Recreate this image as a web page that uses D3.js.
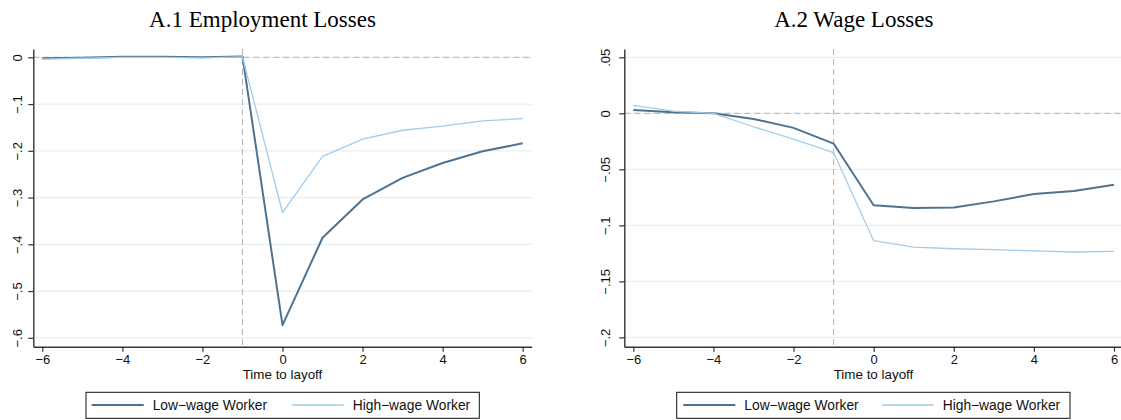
<!DOCTYPE html>
<html>
<head>
<meta charset="utf-8">
<script src="https://cdn.jsdelivr.net/npm/d3@7"></script>
<style>
  body { margin: 0; background: #fff; }
  svg { display: block; }
</style>
</head>
<body>
<svg></svg>
<script>
var width = 1121,
    height = 420;
var svg = d3.select("svg")
    .attr("width", width)
    .attr("height", height);

// data
var years = [-6, -5, -4, -3, -2, -1, 0, 1, 2, 3, 4, 5, 6];
var empLow  = [-0.002, -0.001, 0.001, 0.001, 0.000, 0.002, -0.573, -0.386, -0.304, -0.258, -0.226, -0.201, -0.184];
var empHigh = [-0.004, -0.002, 0.000, 0.000, -0.001, 0.001, -0.332, -0.212, -0.175, -0.156, -0.147, -0.136, -0.131];
var wageLow  = [0.003, 0.001, 0.000, -0.005, -0.013, -0.027, -0.082, -0.0845, -0.084, -0.0786, -0.072, -0.0694, -0.0637];
var wageHigh = [0.007, 0.002, 0.000, -0.012, -0.023, -0.035, -0.1137, -0.1194, -0.1209, -0.1217, -0.1227, -0.1238, -0.1232];

var xTicks = [-6, -4, -2, 0, 2, 4, 6];
var empTicks = [0, -0.1, -0.2, -0.3, -0.4, -0.5, -0.6];
var empTickLabels = ["0", "\u2212.1", "\u2212.2", "\u2212.3", "\u2212.4", "\u2212.5", "\u2212.6"];
var wageTicks = [0.05, 0, -0.05, -0.1, -0.15, -0.2];
var wageTickLabels = [".05", "0", "\u2212.05", "\u2212.1", "\u2212.15", "\u2212.2"];
var seriesNames = ["Low\u2212wage Worker", "High\u2212wage Worker"];
var titles = ["A.1 Employment Losses", "A.2 Wage Losses"];

var colors = ["#4e7391", "#a2cdea"],
    widths = [2, 1.3];
var sans = "'Liberation Sans', Arial, Helvetica, sans-serif",
    serif = "'Liberation Serif', 'Times New Roman', serif";

drawPanel({
    left: 33.3, right: 531.7,
    yDomain: [0.0178, -0.619],
    ticks: empTicks, tickLabels: empTickLabels, labelOff: 11.6,
    series: [empLow, empHigh],
    title: titles[0], titleX: 262.5,
    legend: [86, 479.3], legLines: [91.7, 291.7]
});
drawPanel({
    left: 624.3, right: 1123,
    yDomain: [0.0574, -0.2083],
    ticks: wageTicks, tickLabels: wageTickLabels, labelOff: 14.3,
    series: [wageLow, wageHigh],
    title: titles[1], titleX: 853.8,
    legend: [676.7, 1070], legLines: [683.3, 881.7]
});

function drawPanel(p) {
    var top = 49, bottom = 346.7;
    var x = d3.scaleLinear().domain([-6.225, 6.225]).range([p.left, p.right]);
    var y = d3.scaleLinear().domain(p.yDomain).range([top, bottom]);
    var g = svg.append("g");

    //title
    g.append("text")
        .attr("x", p.titleX).attr("y", 26.7)
        .attr("text-anchor", "middle")
        .style("font-family", serif).style("font-size", "23px")
        .text(p.title);

    //gridlines
    g.selectAll(".grid")
        .data(p.ticks)
        .enter().append("line")
        .attr("x1", p.left).attr("x2", p.right)
        .attr("y1", d => y(d)).attr("y2", d => y(d))
        .attr("stroke", "#e6eff2").attr("stroke-width", 1.3);

    //reference lines
    g.append("line")
        .attr("x1", p.left).attr("x2", p.right)
        .attr("y1", y(0)).attr("y2", y(0))
        .attr("stroke", "#b3b3b3").attr("stroke-width", 1)
        .attr("stroke-dasharray", "6,4");
    g.append("line")
        .attr("x1", x(-1)).attr("x2", x(-1))
        .attr("y1", top).attr("y2", bottom)
        .attr("stroke", "#b3b3b3").attr("stroke-width", 1)
        .attr("stroke-dasharray", "6,4");

    //series
    var line = d3.line()
        .x((d, i) => x(years[i]))
        .y(d => y(d));
    p.series.forEach((s, k) => {
        g.append("path")
            .attr("d", line(s))
            .attr("fill", "none")
            .attr("stroke", colors[k])
            .attr("stroke-width", widths[k])
            .attr("stroke-linejoin", "round");
    });

    //x axis
    var xAxis = g.append("g")
        .attr("transform", "translate(0," + bottom + ")")
        .call(d3.axisBottom(x).tickValues(xTicks).tickSize(5).tickSizeOuter(0)
            .tickFormat(d => d < 0 ? "\u2212" + Math.abs(d) : d));
    xAxis.select(".domain").attr("stroke", "#333").attr("stroke-width", 1.4);
    xAxis.selectAll(".tick line").attr("stroke", "#333").attr("stroke-width", 1.2);
    xAxis.selectAll(".tick text")
        .attr("y", 17.6).attr("dy", null)
        .style("font-family", sans).style("font-size", "13px").attr("fill", "#111");

    //y axis
    var yAxis = g.append("g")
        .attr("transform", "translate(" + p.left + ",0)")
        .call(d3.axisLeft(y).tickValues(p.ticks).tickSize(5).tickSizeOuter(0)
            .tickFormat((d, i) => p.tickLabels[i]));
    yAxis.select(".domain").attr("stroke", "#333").attr("stroke-width", 1.4);
    yAxis.selectAll(".tick line").attr("stroke", "#333").attr("stroke-width", 1.2);
    yAxis.selectAll(".tick text")
        .attr("x", null).attr("dy", null)
        .attr("text-anchor", "middle")
        .attr("transform", "translate(" + (-p.labelOff) + ",0) rotate(-90)")
        .style("font-family", sans).style("font-size", "13px").attr("fill", "#111");

    //axis title
    g.append("text")
        .attr("x", (p.left + Math.min(p.right, 531.7 + p.left - 33.3)) / 2).attr("y", 379.3)
        .attr("text-anchor", "middle")
        .style("font-family", sans).style("font-size", "13.4px").attr("fill", "#111")
        .text("Time to layoff");

    //legend
    g.append("rect")
        .attr("x", p.legend[0]).attr("y", 392.3)
        .attr("width", p.legend[1] - p.legend[0]).attr("height", 26)
        .attr("fill", "#fff").attr("stroke", "#111").attr("stroke-width", 1);
    seriesNames.forEach((name, k) => {
        var lx = p.legLines[k];
        g.append("line")
            .attr("x1", lx).attr("x2", lx + 52)
            .attr("y1", 405).attr("y2", 405)
            .attr("stroke", colors[k]).attr("stroke-width", widths[k]);
        g.append("text")
            .attr("x", lx + 61).attr("y", 410)
            .style("font-family", sans).style("font-size", "13.8px").attr("fill", "#111")
            .text(name);
    });
}
</script>
</body>
</html>
